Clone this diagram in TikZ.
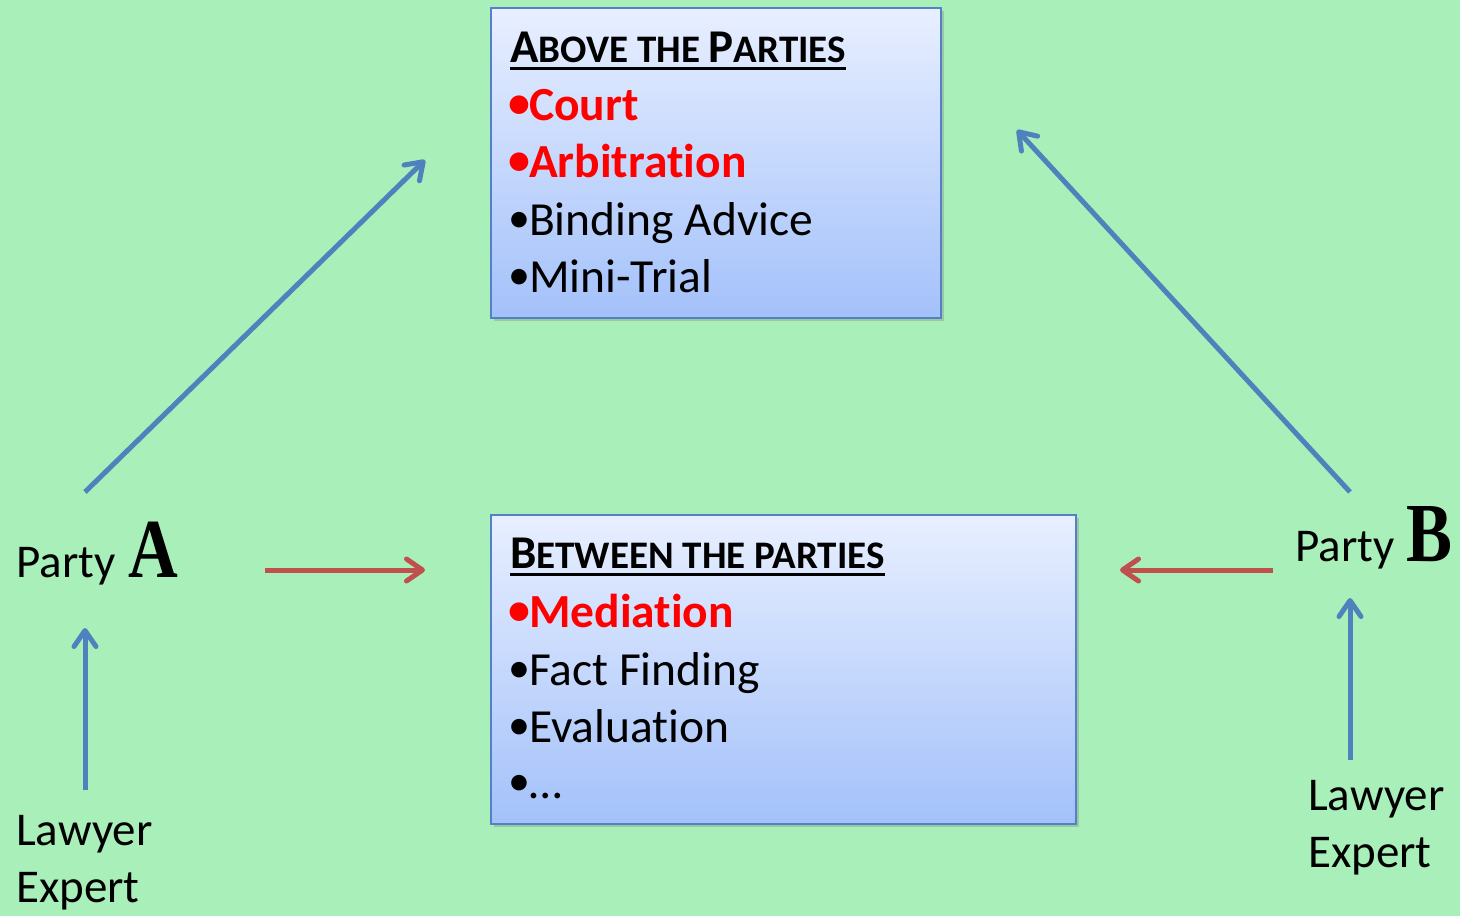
\documentclass[tikz,border=0pt]{standalone}
\usepackage{fontspec}
\setmainfont{Carlito}[Ligatures={NoCommon,NoContextual}]
\newfontfamily\serifAB{Liberation Serif}
\usetikzlibrary{arrows.meta,shadows}
\definecolor{bgc}{RGB}{169,239,186}
\definecolor{gtop}{RGB}{232,239,255}
\definecolor{gbot}{RGB}{163,193,250}
\definecolor{boxline}{RGB}{84,128,200}
\definecolor{bluearr}{RGB}{79,129,189}
\definecolor{redarr}{RGB}{192,80,77}
\definecolor{hot}{RGB}{255,0,0}
\tikzset{
  box/.style={draw=boxline, line width=1.5pt, top color=gtop, bottom color=gbot,
    anchor=north west, inner sep=0pt,
    drop shadow={opacity=0.35, shadow xshift=3pt, shadow yshift=-3pt}},
  txt/.style={anchor=base west, inner sep=0pt, font=\fontsize{47.5}{57}\selectfont},
  hottxt/.style={txt, font=\fontsize{47.5}{57}\selectfont\bfseries, text=hot},
  lbl/.style={anchor=base west, inner sep=0pt, font=\fontsize{47}{57}\selectfont},
  bigletter/.style={anchor=base west, inner sep=0pt, font=\serifAB\bfseries\fontsize{84}{90}\selectfont},
  arrowtip/.style={-{Straight Barb[length=16pt,width=22pt,line cap=round,line join=round]}},
  bluearrow/.style={draw=bluearr, line width=5pt, arrowtip},
  redarrow/.style={draw=redarr, line width=5pt, arrowtip},
}
\newcommand{\bigsc}[1]{{\fontsize{47}{57}\selectfont #1}}
\newcommand{\smsc}[1]{{\fontsize{39}{57}\selectfont #1}}
\newcommand{\bul}{\raisebox{2.5pt}{\fontsize{44}{45}\selectfont •}\hspace{-1pt}}
\begin{document}
\begin{tikzpicture}[x=1pt,y=-1pt]
\fill[bgc] (0,0) rectangle (1460,916);
\useasboundingbox (0,0) rectangle (1460,916);

% boxes
\node[box, minimum width=450pt, minimum height=310pt] (abovebox) at (490,7) {};
\node[box, minimum width=585pt, minimum height=309pt] (betweenbox) at (490,514) {};

% above texts
\node[txt, font=\bfseries] (t1) at (510,62) {\bigsc{A}\smsc{BOVE THE }\bigsc{P}\smsc{ARTIES}};
\draw[line width=2.5pt] ([yshift=-6pt]t1.south west) -- ([yshift=-6pt]t1.south east);
\node[hottxt] (court) at (508,120) {\bul Court};
\node[hottxt] (arb) at (508,177) {\bul Arbitration};
\node[txt] (bind) at (508,235) {\bul Binding Advice};
\node[txt] (mini) at (508,292) {\bul Mini-Trial};

% between texts
\node[txt, font=\bfseries] (t2) at (510,568) {\bigsc{B}\smsc{ETWEEN THE PARTIES}};
\draw[line width=2.5pt] ([yshift=-6pt]t2.south west) -- ([yshift=-6pt]t2.south east);
\node[hottxt] (med) at (508,627) {\bul Mediation};
\node[txt] (fact) at (508,685) {\bul Fact Finding};
\node[txt] (eval) at (508,742) {\bul Evaluation};
\node[txt] (dots) at (508,798) {\bul …};

% parties
\node[lbl] (partyA) at (16,577) {Party};
\node[bigletter] (A) at (128,577) {\scalebox{0.82}[1]{A}};
\node[lbl] (partyB) at (1295,561) {Party};
\node[bigletter] (B) at (1406,561) {\scalebox{0.82}[1]{B}};

\node[lbl] (lawA) at (16,845) {Lawyer};
\node[lbl] (expA) at (16,902) {Expert};
\node[lbl] (lawB) at (1308,810) {Lawyer};
\node[lbl] (expB) at (1308,867) {Expert};

% arrow coordinates
\coordinate (a1s) at (85,492);
\coordinate (a1e) at (425,160);
\coordinate (a2s) at (1350,492);
\coordinate (a2e) at (1017,130);
\coordinate (a3s) at (85,790);
\coordinate (a3e) at (85,628);
\coordinate (a4s) at (1350,760);
\coordinate (a4e) at (1350,598);
\coordinate (r1s) at (265,570);
\coordinate (r1e) at (425,570);
\coordinate (r2s) at (1273,570);
\coordinate (r2e) at (1120,570);

\draw[bluearrow] (a1s) -- (a1e);
\draw[bluearrow] (a2s) -- (a2e);
\draw[bluearrow] (a3s) -- (a3e);
\draw[bluearrow] (a4s) -- (a4e);
\draw[redarrow] (r1s) -- (r1e);
\draw[redarrow] (r2s) -- (r2e);
\end{tikzpicture}
\end{document}
